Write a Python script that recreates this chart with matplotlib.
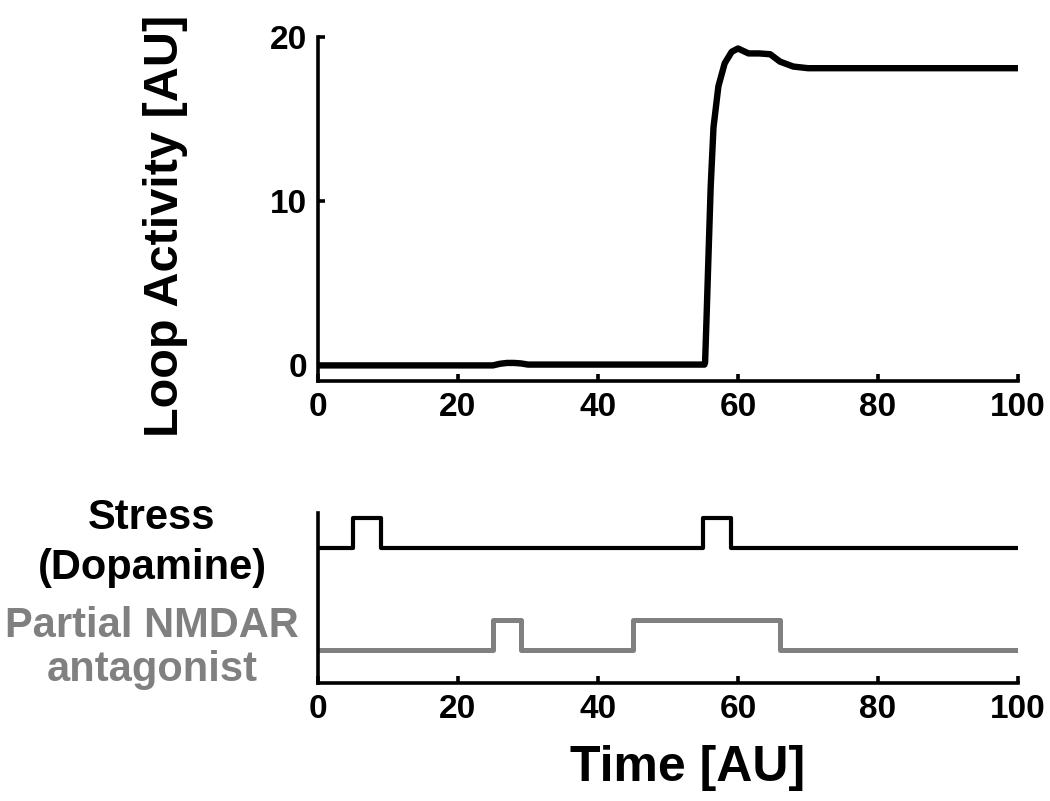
#!/usr/bin/env python3
"""Loop activity response to stress / partial NMDAR antagonist pulses."""

import matplotlib
matplotlib.use("Agg")
import matplotlib.pyplot as plt

OUTPUT_FILE = "out.png"

# loop activity trace
time_pts = [0, 25, 26, 27, 28, 29, 30, 45, 55.2, 55.3, 55.5, 55.8, 56.1, 56.5,
            57.2, 58.1, 59.1, 60.0, 61.5, 63.0, 64.6, 66.0, 67.9, 70, 80.3, 100]
activity = [0, 0, 0.1, 0.15, 0.15, 0.12, 0.05, 0.05, 0.05, 0.2, 2.8, 6.9, 10.9, 14.5,
            17.0, 18.4, 19.1, 19.3, 19.0, 19.0, 18.95, 18.5, 18.2, 18.1, 18.1, 18.1]

# input pulses (step signals)
stress_t = [0, 5, 5, 9, 9, 55, 55, 59, 59, 100]
stress_v = [0, 0, 1, 1, 0, 0, 1, 1, 0, 0]
nmdar_t = [0, 25, 25, 29, 29, 45, 45, 66, 66, 100]
nmdar_v = [0, 0, 1, 1, 0, 0, 1, 1, 0, 0]

STRESS_OFFSET = 3.4
GRAY = "#808080"
FONT = ["Liberation Sans", "DejaVu Sans"]


def style_axes(ax):
    for side in ("top", "right"):
        ax.spines[side].set_visible(False)
    for side in ("left", "bottom"):
        ax.spines[side].set_linewidth(2.6)
    ax.tick_params(direction="in", length=5, width=2.6, pad=8)
    for lab in ax.get_xticklabels() + ax.get_yticklabels():
        lab.set_fontfamily(FONT)
        lab.set_fontweight("bold")
        lab.set_fontsize(24)


def main():
    fig = plt.figure(figsize=(10.5, 8.01), dpi=100)
    W, H = 1050, 801

    # top panel: loop activity
    ax1 = fig.add_axes([318 / W, 1 - 381 / H, 700 / W, 344 / H])
    ax1.plot(time_pts, activity, color="black", lw=4.6, solid_joinstyle="round")
    ax1.set_xlim(0, 100)
    ax1.set_ylim(-0.95, 20)
    ax1.set_xticks([0, 20, 40, 60, 80, 100])
    ax1.set_yticks([0, 10, 20])
    style_axes(ax1)

    # bottom panel: inputs
    ax2 = fig.add_axes([318 / W, 1 - 683 / H, 700 / W, 170 / H])
    ax2.plot(stress_t, [v + STRESS_OFFSET for v in stress_v], color="black", lw=3.0)
    ax2.plot(nmdar_t, nmdar_v, color=GRAY, lw=3.6)
    ax2.set_xlim(0, 100)
    ax2.set_ylim(-1.1, 4.57)
    ax2.set_xticks([0, 20, 40, 60, 80, 100])
    ax2.set_yticks([])
    style_axes(ax2)

    fig.text(166 / W, 1 - 226 / H, "Loop Activity [AU]", rotation=90,
             ha="center", va="center", fontsize=35, fontweight="bold", family=FONT)
    fig.text(688 / W, 1 - 768 / H, "Time [AU]", ha="center", va="center",
             fontsize=36, fontweight="bold", family=FONT)
    fig.text(152 / W, 1 - 543 / H, "Stress\n(Dopamine)", ha="center", va="center",
             fontsize=30, fontweight="bold", family=FONT, linespacing=1.3)
    fig.text(152 / W, 1 - 648 / H, "Partial NMDAR\nantagonist", ha="center", va="center",
             fontsize=30, fontweight="bold", family=FONT, color=GRAY, linespacing=1.15)

    fig.savefig(OUTPUT_FILE, dpi=100)
    plt.close(fig)


if __name__ == "__main__":
    main()
